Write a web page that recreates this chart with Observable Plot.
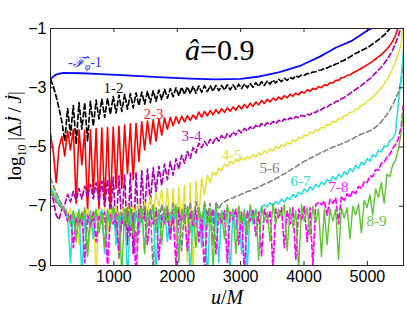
<!DOCTYPE html>
<html><head><meta charset="utf-8">
<script src="https://cdn.jsdelivr.net/npm/d3@7"></script>
<script src="https://cdn.jsdelivr.net/npm/@observablehq/plot@0.6"></script>
<style>
html,body{margin:0;padding:0;background:#fff;}
#chart{width:407px;height:309px;}
</style>
</head><body><div id="chart"></div>
<script>
// ---- data ----
const uStep = 45; // sampling step in u/M for the gridded series
const xTicks = [1000, 2000, 3000, 4000, 5000];
const yTicks = [-9, -7, -5, -3, -1];

const blueU = [0, 45, 90, 200, 500, 800, 1200, 1700, 2200, 2600, 3000, 3300, 3600, 3950, 4250, 4500, 4750, 5000, 5100];
const blueV = [-2.72, -2.62, -2.55, -2.5, -2.51, -2.54, -2.58, -2.64, -2.69, -2.72, -2.7, -2.62, -2.48, -2.25, -1.95, -1.65, -1.42, -1.07, -0.96];

const blackV = [
-2.72,-2.95,-3.3,-3.7,-4.15,-4.8,-3.7,-4.6,-3.6,-4.9,
-3.5,-4.4,-3.5,-4.8,-3.45,-4.3,-3.42,-4.05,-3.38,-4.0,
-3.35,-3.9,-3.3,-3.85,-3.25,-3.8,-3.22,-3.72,-3.2,-3.68,
-3.17,-3.6,-3.15,-3.55,-3.12,-3.5,-3.1,-3.45,-3.08,-3.4,
-3.05,-3.35,-3.03,-3.3,-3.0,-3.27,-2.98,-3.22,-2.97,-3.2,
-2.95,-3.18,-2.94,-3.15,-2.93,-3.13,-2.93,-3.12,-2.92,-3.1,
-2.92,-3.08,-2.9,-3.07,-2.9,-3.05,-2.88,-3.03,-2.87,-3.0,
-2.85,-2.98,-2.83,-2.95,-2.8,-2.92,-2.77,-2.88,-2.74,-2.84,
-2.71,-2.79,-2.68,-2.75,-2.65,-2.7,-2.6,-2.64,-2.57,-2.58,
-2.52,-2.52,-2.47,-2.46,-2.41,-2.4,-2.35,-2.33,-2.28,-2.26,
-2.2,-2.17,-2.11,-2.07,-2.01,-1.96,-1.9,-1.84,-1.79,-1.75,
-1.7,-1.65,-1.59,-1.52,-1.45,-1.38,-1.3,-1.22,-1.12,-1.0,
-0.85];

const redV = [
-4.55,-5.2,-6.2,-5.0,-4.65,-5.3,-4.45,-5.1,-4.4,-6.9,
-4.42,-5.6,-4.44,-7.2,-4.42,-6.6,-4.38,-7.1,-4.36,-7.0,
-4.34,-7.1,-4.33,-6.4,-4.3,-6.4,-4.26,-5.9,-4.22,-6.1,
-4.2,-5.5,-4.15,-5.1,-4.12,-4.9,-4.08,-4.8,-4.05,-4.6,
-4.02,-4.4,-4.0,-4.28,-3.98,-4.2,-3.96,-4.15,-3.94,-4.1,
-3.92,-4.06,-3.82,-3.99,-3.8,-3.95,-3.77,-3.91,-3.74,-3.87,
-3.71,-3.83,-3.68,-3.79,-3.65,-3.76,-3.6,-3.72,-3.56,-3.68,
-3.52,-3.63,-3.48,-3.58,-3.43,-3.53,-3.39,-3.48,-3.35,-3.43,
-3.31,-3.39,-3.27,-3.34,-3.22,-3.29,-3.18,-3.24,-3.13,-3.18,
-3.07,-3.12,-3.02,-3.06,-2.96,-3.0,-2.9,-2.92,-2.83,-2.84,
-2.75,-2.75,-2.66,-2.65,-2.58,-2.57,-2.5,-2.45,-2.4,-2.34,
-2.29,-2.23,-2.17,-2.1,-2.03,-1.96,-1.88,-1.79,-1.69,-1.57,
-1.43,-1.22,-0.95,-0.6];

const purpleV = [
-6.45,-6.8,-7.3,-7.45,-7.1,-6.95,-6.6,-6.85,-6.5,-6.8,
-6.4,-6.75,-6.32,-6.7,-6.26,-6.75,-6.2,-6.85,-6.15,-7.0,
-6.1,-7.3,-6.02,-7.8,-5.97,-7.6,-5.93,-8.3,-5.88,-8.6,
-5.85,-7.9,-5.8,-7.3,-5.75,-6.9,-5.7,-6.5,-5.65,-6.3,
-5.58,-6.1,-5.5,-5.95,-5.4,-5.75,-5.28,-5.55,-5.15,-5.38,
-5.02,-5.2,-4.87,-5.03,-4.81,-4.95,-4.74,-4.87,-4.67,-4.8,
-4.61,-4.73,-4.55,-4.66,-4.49,-4.59,-4.43,-4.52,-4.37,-4.46,
-4.32,-4.4,-4.27,-4.34,-4.21,-4.29,-4.18,-4.25,-4.14,-4.21,
-4.1,-4.16,-4.05,-4.11,-4.01,-4.07,-3.97,-4.01,-3.93,-3.97,
-3.89,-3.92,-3.82,-3.84,-3.74,-3.75,-3.66,-3.66,-3.57,-3.56,
-3.47,-3.45,-3.37,-3.33,-3.25,-3.2,-3.12,-3.06,-2.99,-2.92,
-2.85,-2.77,-2.69,-2.6,-2.5,-2.4,-2.3,-2.18,-2.05,-1.9,
-1.72,-1.5,-1.25,-0.9];

const yellowV = [
-6.25,-6.45,-6.65,-6.85,-7.0,-7.15,-7.3,-7.1,-7.6,-7.2,
-8.3,-7.15,-7.5,-7.1,-7.9,-7.15,-9.3,-7.1,-7.6,-7.05,
-8.0,-7.1,-7.4,-7.0,-8.6,-7.05,-7.5,-6.95,-7.8,-7.0,
-7.3,-6.9,-7.6,-6.85,-7.2,-6.7,-7.3,-6.55,-7.0,-6.45,
-7.4,-6.4,-7.8,-6.4,-8.2,-6.35,-7.6,-6.3,-8.9,-6.2,
-9.4,-6.15,-7.4,-6.05,-6.6,-5.95,-6.2,-5.85,-5.95,-5.7,
-5.8,-5.58,-5.65,-5.48,-5.56,-5.42,-5.5,-5.37,-5.44,-5.32,
-5.4,-5.26,-5.34,-5.2,-5.27,-5.13,-5.2,-5.06,-5.13,-4.99,
-5.05,-4.92,-4.98,-4.84,-4.9,-4.76,-4.81,-4.67,-4.72,-4.59,
-4.63,-4.5,-4.54,-4.42,-4.45,-4.33,-4.36,-4.24,-4.26,-4.14,
-4.16,-4.04,-4.05,-3.94,-3.94,-3.83,-3.82,-3.72,-3.7,-3.59,
-3.56,-3.45,-3.4,-3.3,-3.22,-3.1,-3.0,-2.87,-2.72,-2.55,
-2.35,-2.12,-1.85,-1.5,-0.5];

const grayV = [
-6.05,-6.3,-6.55,-6.75,-6.95,-7.1,-7.2,-7.5,-7.2,-8.1,
-7.3,-7.6,-7.15,-8.6,-7.3,-7.5,-7.1,-7.9,-7.25,-8.4,
-7.2,-7.6,-7.1,-7.4,-8.8,-7.2,-7.5,-7.05,-7.8,-7.2,
-8.2,-7.1,-7.45,-7.0,-7.7,-7.1,-9.2,-7.05,-7.5,-6.95,
-7.6,-7.0,-8.0,-6.9,-7.4,-7.0,-8.5,-6.95,-7.3,-6.9,
-7.7,-6.85,-7.2,-7.9,-6.85,-7.3,-6.9,-8.3,-6.85,-7.1,
-6.92,-6.85,-6.8,-6.74,-6.72,-6.66,-6.64,-6.58,-6.56,-6.5,
-6.48,-6.42,-6.4,-6.34,-6.31,-6.25,-6.22,-6.16,-6.13,-6.06,
-6.02,-5.95,-5.91,-5.84,-5.79,-5.72,-5.67,-5.6,-5.55,-5.48,
-5.44,-5.38,-5.34,-5.28,-5.24,-5.18,-5.15,-5.09,-5.06,-5.0,
-4.98,-4.93,-4.9,-4.85,-4.82,-4.76,-4.72,-4.66,-4.62,-4.56,
-4.53,-4.49,-4.45,-4.4,-4.33,-4.25,-4.15,-4.02,-3.9,-3.75,
-3.57,-3.37,-3.15,-2.75,-1.8];

const cyanV = [
-6.37,-6.55,-6.72,-6.88,-7.0,-7.1,-7.4,-8.9,-7.2,-7.5,
-7.1,-9.4,-7.3,-7.6,-7.15,-8.1,-7.25,-7.45,-7.1,-8.6,
-7.2,-7.7,-7.05,-8.3,-7.3,-7.5,-7.1,-9.5,-7.2,-7.6,
-7.15,-7.9,-7.1,-8.5,-7.25,-7.4,-7.05,-9.3,-7.2,-7.55,
-7.1,-8.2,-7.3,-7.6,-7.05,-8.8,-7.15,-7.5,-7.1,-9.4,
-7.2,-7.7,-7.05,-8.4,-7.15,-9.5,-7.1,-7.6,-7.0,-8.9,
-7.15,-7.5,-7.05,-9.3,-7.1,-7.8,-7.0,-8.6,-7.1,-9.2,
-7.05,-7.6,-7.1,-7.3,-7.05,-6.95,-7.02,-6.88,-6.98,-6.84,
-6.92,-6.76,-6.86,-6.7,-6.78,-6.6,-6.7,-6.52,-6.6,-6.42,
-6.52,-6.34,-6.44,-6.26,-6.36,-6.18,-6.27,-6.09,-6.18,-6.0,
-6.1,-5.92,-6.02,-5.83,-5.93,-5.73,-5.83,-5.62,-5.72,-5.51,
-5.6,-5.39,-5.47,-5.26,-5.33,-5.11,-5.17,-4.96,-5.0,-4.78,
-4.72,-4.5,-3.5,-2.6,-1.5];

const magentaV = [
-6.5,-6.68,-6.85,-6.97,-7.05,-7.2,-7.5,-7.3,-8.4,-7.4,
-7.6,-7.25,-8.9,-7.3,-7.7,-7.2,-8.2,-7.35,-7.5,-7.2,
-9.1,-7.3,-7.6,-7.2,-8.5,-7.4,-7.7,-7.25,-8.0,-7.3,
-9.4,-7.2,-7.5,-7.3,-8.3,-7.2,-7.6,-7.15,-8.8,-7.3,
-7.55,-7.2,-8.1,-7.25,-9.0,-7.2,-7.5,-7.3,-8.5,-7.2,
-7.65,-7.15,-8.2,-7.3,-9.2,-7.2,-7.5,-7.1,-8.6,-7.25,
-7.6,-7.15,-8.9,-7.2,-7.45,-7.1,-8.3,-7.2,-9.3,-7.15,
-7.5,-7.1,-8.0,-7.2,-8.7,-7.1,-7.55,-7.15,-9.1,-7.1,
-7.4,-7.05,-8.4,-7.15,-7.6,-7.05,-8.8,-7.1,-7.5,-7.0,
-8.2,-7.05,-9.0,-6.95,-6.86,-6.95,-6.82,-7.3,-6.77,-6.9,
-6.72,-7.6,-6.66,-6.8,-6.58,-6.7,-6.47,-6.58,-6.33,-6.4,
-6.17,-6.2,-5.98,-6.0,-5.76,-5.78,-5.55,-5.52,-5.32,-5.25,
-5.05,-4.92,-4.72,-4.3,-3.3];

const greenV = [
-6.47,-6.65,-6.82,-6.95,-7.05,-7.1,-7.3,-7.6,-7.15,-8.2,
-7.2,-7.5,-7.05,-8.7,-7.3,-7.4,-7.1,-7.9,-7.2,-8.4,
-7.1,-7.6,-7.0,-7.45,-7.2,-9.3,-7.1,-7.7,-7.05,-8.0,
-7.25,-7.5,-7.0,-8.6,-7.15,-7.4,-6.95,-7.8,-7.1,-8.3,
-7.05,-7.55,-7.2,-7.35,-6.95,-8.9,-7.1,-7.6,-7.0,-7.9,
-7.15,-8.4,-7.05,-7.45,-6.9,-7.7,-7.1,-9.1,-7.0,-7.5,
-7.2,-8.1,-6.95,-7.4,-7.1,-8.6,-7.0,-7.6,-7.15,-7.95,
-6.95,-7.45,-7.1,-8.8,-7.0,-7.5,-7.2,-8.2,-6.9,-7.6,
-7.1,-7.35,-6.95,-8.5,-7.05,-7.7,-7.15,-9.2,-6.95,-7.5,
-7.05,-8.0,-7.0,-7.55,-7.1,-8.7,-7.1,-8.3,-7.08,-7.5,
-7.1,-8.8,-7.05,-7.4,-7.05,-8.1,-7.0,-7.3,-6.92,-7.9,
-6.8,-7.05,-6.62,-7.3,-6.42,-6.7,-6.2,-6.9,-5.92,-6.0,
-5.6,-5.45,-5.05,-4.5,-3.5];

const labelText = ["1-2", "2-3", "3-4", "4-5", "5-6", "6-7", "7-8", "8-9"];
const labelU = [994, 1625, 2225, 2856, 3456, 3945, 4545, 5144];
const labelV = [-3.03, -3.9, -4.65, -5.26, -5.73, -6.17, -6.37, -7.49];

const fluxLabelU = 284, fluxLabelV = -2.32;
const titleU = 2130, titleV = -2.08;

// ---- styles ----
const xDom = [0, 5570], yDom = [-9, -1];
const W = 407, H = 309, mL = 50, mR = 4, mT = 28, mB = 44;
const serif = "'Liberation Serif', 'DejaVu Serif', serif";
const styles = {
  "1-2": {stroke: "#000000", width: 1.7, dash: "5,3"},
  "2-3": {stroke: "#ff0000", width: 1.6},
  "3-4": {stroke: "#b000b8", width: 1.7, dash: "5,3"},
  "4-5": {stroke: "#e6e030", width: 1.5},
  "5-6": {stroke: "#808080", width: 1.6, dash: "5,3"},
  "6-7": {stroke: "#1fdede", width: 1.5},
  "7-8": {stroke: "#ff00ff", width: 1.7, dash: "5,3"},
  "8-9": {stroke: "#5cc62c", width: 1.4}
};
const labelColors = ["#111111", "#ff1a1a", "#b520c0", "#e0dc3a", "#808080", "#25dada", "#ff20ff", "#66c440"];

const series = [["1-2", blackV], ["2-3", redV], ["3-4", purpleV], ["4-5", yellowV],
                ["5-6", grayV], ["6-7", cyanV], ["7-8", magentaV], ["8-9", greenV]];
const rowsOf = (key, vals) => vals.map((v, i) => ({key, u: i * uStep, v}));

const lineMarks = series.map(([k, vals]) => Plot.line(rowsOf(k, vals), {
  x: "u", y: "v", stroke: styles[k].stroke, strokeWidth: styles[k].width,
  strokeDasharray: styles[k].dash, clip: true
}));
const blueRows = blueU.map((u, i) => ({u, v: blueV[i]}));
const labels = labelText.map((t, i) => ({t, u: labelU[i], v: labelV[i], c: labelColors[i]}));

const tickDy = (yDom[1] - yDom[0]) * 4 / (H - mT - mB);
const tickDx = (xDom[1] - xDom[0]) * 4 / (W - mL - mR);

const plot = Plot.plot({
  width: W, height: H,
  marginLeft: mL, marginRight: mR, marginTop: mT, marginBottom: mB,
  x: {domain: xDom, label: null},
  y: {domain: yDom, label: null},
  style: {fontFamily: "'Liberation Sans', Arial, sans-serif", fontSize: "16px", background: "#fff", color: "#000"},
  marks: [
    Plot.line(blueRows, {x: "u", y: "v", stroke: "#0a0aff", strokeWidth: 1.8, clip: true}),
    ...lineMarks,
    Plot.text(labels, {x: "u", y: "v", text: "t", fill: "c", fontFamily: serif, fontSize: 15}),
    Plot.frame({stroke: "#262626", strokeWidth: 1}),
    Plot.ruleX(xTicks, {x: d => d, y1: yDom[0], y2: yDom[0] + tickDy, stroke: "#262626"}),
    Plot.ruleX(xTicks, {x: d => d, y1: yDom[1] - tickDy, y2: yDom[1], stroke: "#262626"}),
    Plot.ruleY(yTicks, {y: d => d, x1: xDom[0], x2: xDom[0] + tickDx, stroke: "#262626"}),
    Plot.ruleY(yTicks, {y: d => d, x1: xDom[1] - tickDx, x2: xDom[1], stroke: "#262626"}),
    Plot.axisX({ticks: xTicks, tickSize: 0, tickPadding: 5, label: null, tickFormat: d3.format("d"), fontSize: 16}),
    Plot.axisY({ticks: yTicks, tickSize: 0, tickPadding: 4, label: null, tickFormat: d3.format("d"), fontSize: 16})
  ]
});
document.getElementById("chart").appendChild(plot);

// ---- rich-text annotations positioned through the plot's scales ----
const sx = plot.scale("x"), sy = plot.scale("y");
const svg = d3.select(plot);

const flux = svg.append("text")
  .attr("x", sx.apply(fluxLabelU)).attr("y", sy.apply(fluxLabelV))
  .attr("text-anchor", "start")
  .attr("font-family", serif).attr("font-size", 14).attr("fill", "#2a2aff");
flux.append("tspan").text("-");
flux.append("tspan").attr("font-style", "italic").text("\u2131\u0302");
flux.append("tspan").attr("font-size", 10).attr("dy", 3).attr("font-style", "italic").text("\u03c6");
flux.append("tspan").attr("dy", -3).text("-1");

const title = svg.append("text")
  .attr("x", sx.apply(titleU)).attr("y", sy.apply(titleV))
  .attr("text-anchor", "start")
  .attr("font-family", serif).attr("font-size", 30).attr("fill", "#000");
title.append("tspan").attr("font-style", "italic").text("\u00e2");
title.append("tspan").text("=0.9");

const ylab = svg.append("text")
  .attr("transform", "translate(21,136) rotate(-90)")
  .attr("text-anchor", "middle")
  .attr("font-family", serif).attr("font-size", 19).attr("fill", "#000");
ylab.append("tspan").text("log");
ylab.append("tspan").attr("font-size", 12).attr("dy", 5).text("10");
ylab.append("tspan").attr("dy", -5).text("\u2009|\u0394");
ylab.append("tspan").attr("font-style", "italic").text("J\u0307");
ylab.append("tspan").text("\u2009/\u2009");
ylab.append("tspan").attr("font-style", "italic").text("J\u0307");
ylab.append("tspan").text("|");

const xlab = svg.append("text")
  .attr("x", 227).attr("y", 304)
  .attr("text-anchor", "middle")
  .attr("font-family", serif).attr("font-size", 20).attr("fill", "#000");
xlab.append("tspan").attr("font-style", "italic").text("u");
xlab.append("tspan").text("/");
xlab.append("tspan").attr("font-style", "italic").text("M");
</script>
</body></html>
